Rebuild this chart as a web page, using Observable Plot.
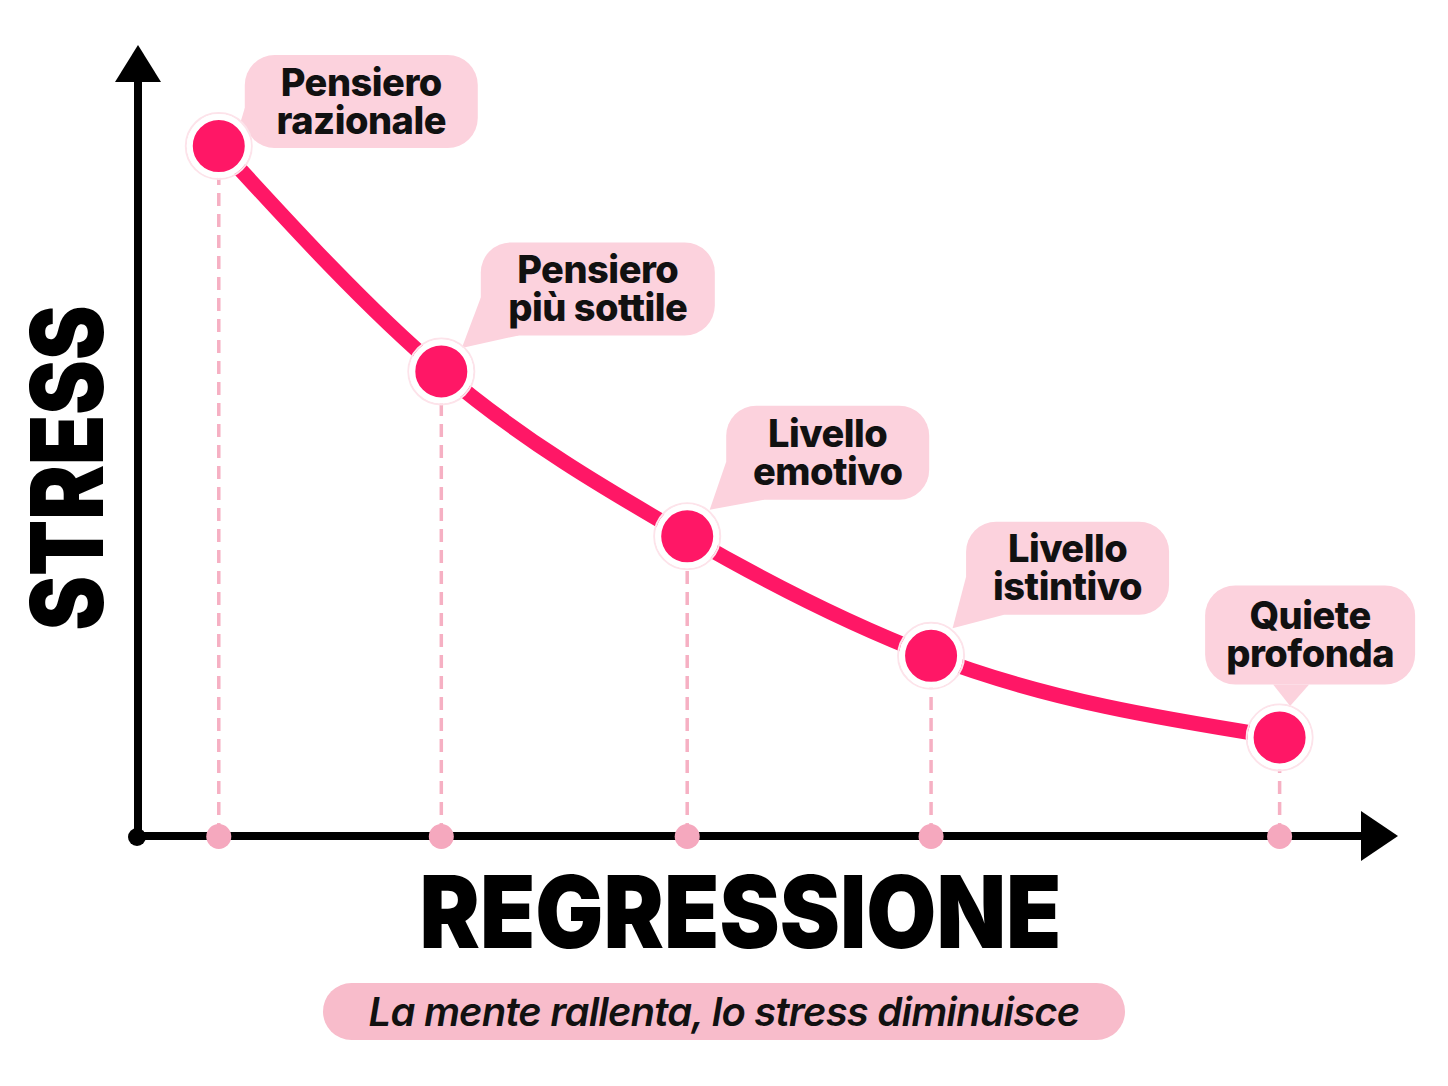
<!DOCTYPE html>
<html>
<head>
<meta charset="utf-8">
<script src="https://cdn.jsdelivr.net/npm/d3@7"></script>
<script src="https://cdn.jsdelivr.net/npm/@observablehq/plot@0.6"></script>
<style>
  html, body { margin: 0; padding: 0; background: #fff; }
  #chart svg { display: block; }
  #caption {
    margin: 8px 0 0 323px; width: 802px; height: 57px; border-radius: 29px;
    background: #f8bccb; display: flex; align-items: center; justify-content: center;
    font-family: Inter, "Noto Sans", sans-serif; font-style: italic; font-weight: 600;
    font-size: 40px; letter-spacing: -0.8px; color: #111;
  }
</style>
</head>
<body>
<div id="chart"></div>
<div id="caption"></div>
<script>
// ---- data ----
const levels = ["Pensiero\nrazionale", "Pensiero\npiù sottile", "Livello\nemotivo", "Livello\nistintivo", "Quiete\nprofonda"];
const regression = [0.79, 2.98, 5.40, 7.80, 11.23];
const stress = [9.13, 6.15, 3.97, 2.39, 1.31];
const xTitle = "REGRESSIONE";
const yTitle = "STRESS";
const caption = "La mente rallenta, lo stress diminuisce";

const data = levels.map((label, i) => ({label, x: regression[i], y: stress[i]}));

// ---- styles / layout ----
const PINK = "#ff1766";
const CALLOUT = "#fcd2dd";
const calloutLayout = [
  {dx: 143, dy: -44, w: 233, h: 93, base: [[0, -40], [30, 0]], tip: [20, -16]},
  {dx: 157, dy: -82, w: 234, h: 93, base: [[0, -38], [38, 0]], tip: [21, -23]},
  {dx: 141, dy: -83, w: 203, h: 94, base: [[0, -38], [38, 0]], tip: [23, -26]},
  {dx: 137, dy: -87, w: 203, h: 93, base: [[0, -38], [38, 0]], tip: [22, -27]},
  {dx: 31, dy: -102, w: 210, h: 99, base: [[68, 0], [104, 0]], tip: [11, -31]}
];

function shrinkText(len) {
  return (index, scales, values, dims, ctx, next) => {
    const g = next(index, scales, values, dims, ctx);
    g.querySelectorAll("text").forEach(t => {
      t.setAttribute("textLength", len);
      t.setAttribute("lengthAdjust", "spacingAndGlyphs");
    });
    return g;
  };
}

function axesMark(index, scales, values, dims) {
  const x0 = scales.x(0), y0 = scales.y(0);
  const top = dims.marginTop, right = dims.width - dims.marginRight;
  const g = d3.create("svg:g");
  g.append("line").attr("x1", x0).attr("x2", x0).attr("y1", y0).attr("y2", top + 34)
    .attr("stroke", "#000").attr("stroke-width", 8);
  g.append("path").attr("d", `M${x0},${top} L${x0 + 23},${top + 37} L${x0 - 23},${top + 37} Z`).attr("fill", "#000");
  g.append("line").attr("x1", x0).attr("x2", right - 34).attr("y1", y0).attr("y2", y0)
    .attr("stroke", "#000").attr("stroke-width", 8);
  g.append("path").attr("d", `M${right},${y0} L${right - 37},${y0 - 25} L${right - 37},${y0 + 25} Z`).attr("fill", "#000");
  g.append("circle").attr("cx", x0 - 1).attr("cy", y0 + 1).attr("r", 9).attr("fill", "#000");
  return g.node();
}

function calloutMark(index, scales) {
  const g = d3.create("svg:g");
  data.forEach((d, i) => {
    const L = calloutLayout[i];
    const px = scales.x(d.x), py = scales.y(d.y);
    const cx = px + L.dx, cy = py + L.dy;
    const left = cx - L.w / 2, bottom = cy + L.h / 2;
    g.append("rect").attr("x", left).attr("y", cy - L.h / 2).attr("width", L.w).attr("height", L.h)
      .attr("rx", 30).attr("fill", CALLOUT);
    const b1 = L.base[0], b2 = L.base[1];
    g.append("path")
      .attr("d", `M${left + b1[0]},${bottom + b1[1]} L${left + b2[0]},${bottom + b2[1]} L${px + L.tip[0]},${py + L.tip[1]} Z`)
      .attr("fill", CALLOUT);
    const lines = d.label.split("\n");
    const t = g.append("text").attr("text-anchor", "middle")
      .attr("font-family", "Inter, 'Noto Sans', sans-serif").attr("font-weight", 800)
      .attr("font-size", 38).attr("letter-spacing", "-0.5px").attr("fill", "#111");
    lines.forEach((ln, k) => {
      t.append("tspan").attr("x", cx).attr("y", cy + (k === 0 ? -6 : 32)).text(ln);
    });
  });
  return g.node();
}

const H = 975;
const plot = Plot.plot({
  width: 1448,
  height: H,
  marginLeft: 138,
  marginRight: 50,
  marginTop: 45,
  marginBottom: H - 836,
  x: {domain: [0, 12.4], axis: null},
  y: {domain: [0, 10.46], axis: null},
  style: {background: "#fff", overflow: "visible"},
  marks: [
    Plot.ruleX(data, {x: "x", y1: 0, y2: "y", stroke: "#f6b0c3", strokeWidth: 3.5, strokeDasharray: "13,8"}),
    axesMark,
    Plot.dot(data, {x: "x", y: 0, r: 12.5, fill: "#f5a8be"}),
    Plot.line(data, {x: "x", y: "y", curve: "monotone-x", stroke: PINK, strokeWidth: 15, strokeLinecap: "round"}),
    calloutMark,
    Plot.dot(data, {x: "x", y: "y", r: 33, fill: "none", stroke: "#fde3ea", strokeWidth: 2}),
    Plot.dot(data, {x: "x", y: "y", r: 29, fill: PINK, stroke: "#fff", strokeWidth: 6}),
    Plot.text([yTitle], {frameAnchor: "left", dx: -68, dy: 27, rotate: -90, textAnchor: "middle", text: d => d,
      fontSize: 100, fontWeight: 900, fontFamily: "Inter, 'Noto Sans', sans-serif", fill: "#000",
      render: shrinkText(325)}),
    Plot.text([xTitle], {frameAnchor: "bottom", dx: -28, dy: 111, text: d => d,
      fontSize: 100, fontWeight: 900, fontFamily: "Inter, 'Noto Sans', sans-serif", fill: "#000",
      render: shrinkText(642)})
  ]
});
document.getElementById("chart").appendChild(plot);
document.getElementById("caption").textContent = caption;
</script>
</body>
</html>
